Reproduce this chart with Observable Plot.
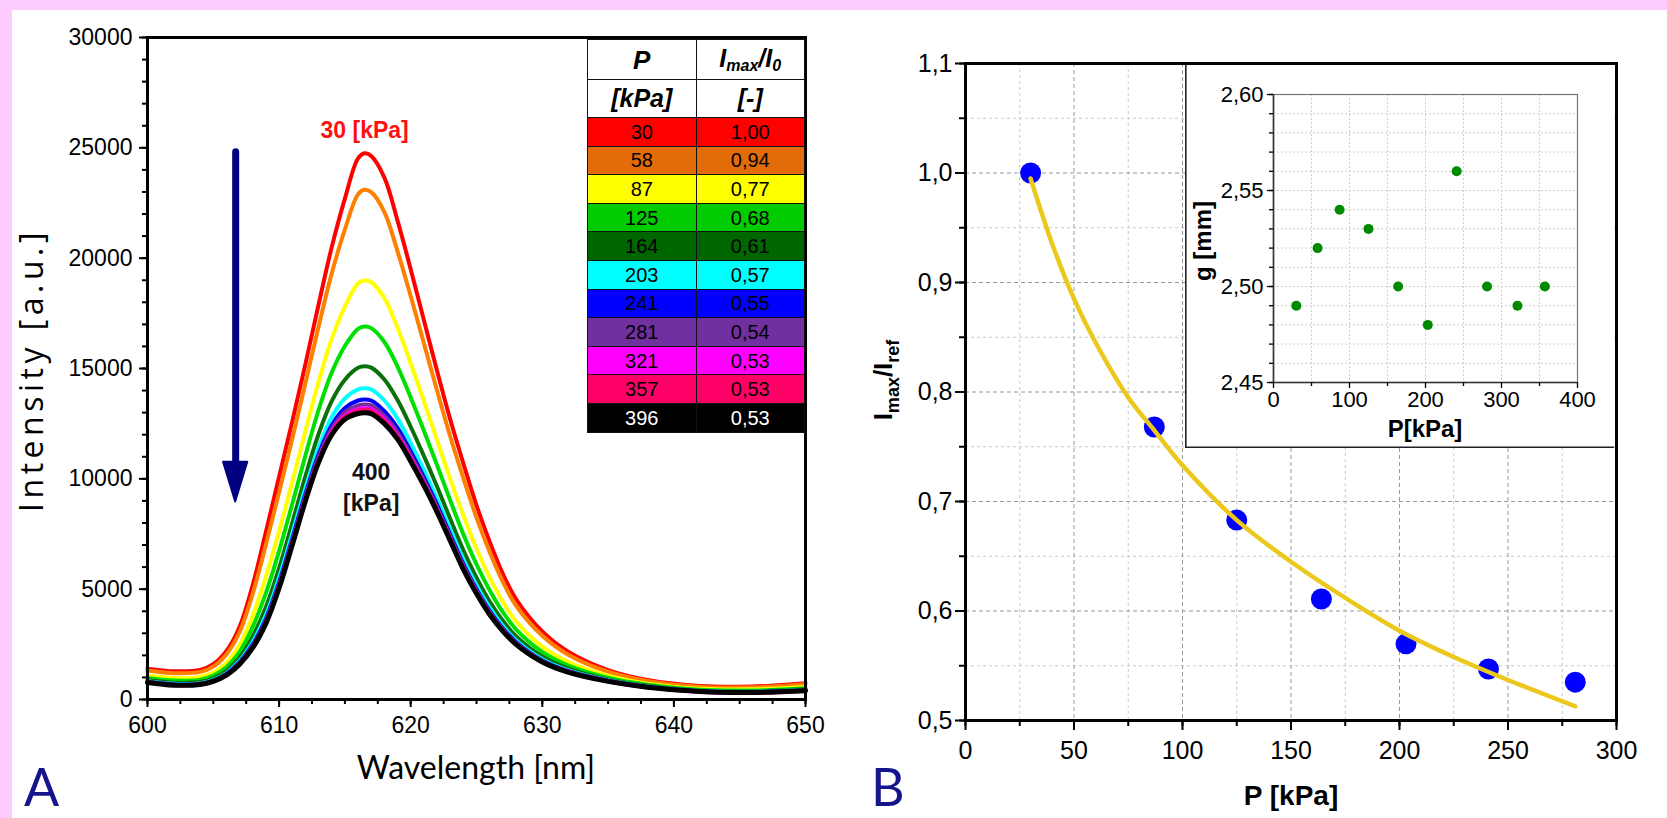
<!DOCTYPE html>
<html>
<head>
<meta charset="utf-8">
<script src="https://cdn.jsdelivr.net/npm/d3@7"></script>
<script src="https://cdn.jsdelivr.net/npm/@observablehq/plot@0.6"></script>
<style>
html,body{margin:0;padding:0;background:#fff;}
#root{position:relative;width:1667px;height:818px;overflow:hidden;background:#fff;}
.pink{position:absolute;background:#fecbfe;}
table.leg{position:absolute;left:587px;top:39px;width:218px;border-collapse:collapse;table-layout:fixed;
  font-family:"Liberation Sans",Arial,sans-serif;color:#000;}
table.leg td{border:1px solid #111;text-align:center;padding:0;line-height:1;font-size:20px;}
table.leg tr.h td{background:#fff;font-weight:bold;font-style:italic;}
table.leg sub{font-size:16px;vertical-align:-4px;}
</style>
</head>
<body>
<div id="root">
  <div class="pink" style="left:0;top:0;width:1667px;height:10px"></div>
  <div class="pink" style="left:0;top:0;width:12px;height:818px"></div>
</div>
<script>
// ---------------- DATA ----------------
// Panel A: emission spectra (wavelength in nm, intensity in a.u.)
const WAVELENGTH = [600,602,604,605,606,607,608,609,610,611,612,613,614,615,616,616.5,617,618,619,620,621,622,623,624,625,626,627,628,630,632,635,638,642,646,650];
const I_30  = [1400,1280,1340,1600,2200,3300,5200,7600,10100,12600,15200,17900,20500,22700,24520,24750,24630,23650,21700,19500,17200,14900,12700,10700,8800,7150,5700,4550,3080,2150,1330,880,610,590,740];
const I_58  = [1310,1190,1250,1490,2050,3060,4800,7020,9390,11820,14330,16900,19310,21300,22900,23100,22990,22090,20310,18280,16150,14000,11930,10030,8240,6690,5340,4260,2890,2020,1260,840,580,550,690];
const I_87  = [1090,970,1020,1220,1660,2470,3800,5570,7630,9860,12160,14400,16340,17800,18860,18990,18910,18190,16850,15240,13530,11760,10000,8350,6840,5530,4430,3550,2400,1700,1080,720,490,460,570];
const I_125 = [980,860,900,1080,1470,2160,3300,4830,6730,8860,11060,13120,14820,16020,16800,16900,16830,16200,15090,13690,12190,10630,9030,7490,6130,4950,3960,3180,2160,1540,990,670,440,410,510];
const I_164 = [880,760,800,960,1300,1900,2860,4190,5950,8000,10110,12030,13520,14490,15030,15100,15040,14500,13570,12360,11040,9650,8190,6760,5520,4440,3570,2870,1950,1400,910,620,400,370,460];
const I_203 = [830,710,740,890,1200,1760,2620,3840,5530,7530,9580,11420,12800,13640,14050,14100,14050,13550,12730,11620,10410,9100,7720,6350,5180,4160,3340,2690,1830,1320,870,590,380,350,430];
const I_241 = [800,680,710,860,1160,1690,2500,3660,5310,7290,9320,11120,12430,13210,13550,13600,13550,13070,12310,11240,10080,8830,7480,6150,5000,4020,3230,2610,1770,1280,850,580,370,330,420];
const I_281 = [790,670,700,850,1140,1650,2440,3580,5210,7180,9200,10980,12270,13020,13330,13370,13330,12850,12110,11070,9940,8700,7370,6050,4930,3950,3180,2570,1740,1260,840,570,370,330,410];
const I_321 = [780,660,690,830,1120,1630,2400,3520,5140,7100,9110,10870,12150,12870,13160,13200,13160,12690,11970,10950,9830,8610,7290,5980,4870,3910,3140,2540,1720,1250,830,560,350,310,400];
const I_357 = [780,660,690,830,1110,1620,2380,3490,5100,7060,9060,10820,12090,12800,13080,13120,13080,12610,11900,10890,9780,8560,7260,5950,4840,3880,3130,2520,1710,1240,830,560,360,320,400];
const I_396 = [770,650,680,820,1100,1600,2350,3450,5050,7000,9000,10750,12000,12700,12960,13000,12950,12500,11800,10800,9700,8500,7200,5900,4800,3850,3100,2500,1700,1230,820,560,360,320,400];
const LINE_COLORS = ["#ff0000","#ff7f00","#ffff00","#00e000","#0a700a","#00ffff","#0000ff","#7b2d9b","#ff00ff","#ff0066","#000000"];

// Legend table
const TABLE_P = ["30","58","87","125","164","203","241","281","321","357","396"];
const TABLE_RATIO = ["1,00","0,94","0,77","0,68","0,61","0,57","0,55","0,54","0,53","0,53","0,53"];
const TABLE_BG = ["#ff0000","#e36c0a","#ffff00","#00cc00","#006600","#00ffff","#0000ff","#7030a0","#ff00ff","#ff0066","#000000"];

// Axis ticks panel A
const A_X_TICKS = [600,610,620,630,640,650];
const A_Y_TICKS = [0,5000,10000,15000,20000,25000,30000];

// Arrow annotation (data units)
const ARROW_X = 606.7, ARROW_TOP = 24800, ARROW_HEAD = 10750, ARROW_TIP = 8950, ARROW_HALF = 0.92;

// Panel B: normalized max intensity vs pressure
const B_P = [30,87,125,164,203,241,281];
const B_RATIO = [1.00,0.768,0.683,0.611,0.570,0.547,0.535];
const FIT_P = [30,40,50,60,75,87,100,125,150,175,200,225,250,281];
const FIT_V = [0.995,0.935,0.885,0.845,0.795,0.765,0.733,0.683,0.645,0.612,0.582,0.558,0.537,0.513];
const B_X_TICKS = [0,50,100,150,200,250,300];
const B_Y_TICKS = [0.5,0.6,0.7,0.8,0.9,1.0,1.1];

// Inset: gap g vs pressure
const G_P = [30,58,87,125,164,203,241,281,321,357];
const G_MM = [2.49,2.52,2.54,2.53,2.50,2.48,2.56,2.50,2.49,2.50];
const IN_X_TICKS = [0,100,200,300,400];
const IN_Y_TICKS = [2.45,2.50,2.55,2.60];

// ---------------- DRAW ----------------
const root = document.getElementById("root");
const ARIAL = '"Liberation Sans", Arial, sans-serif';
const HUMAN = 'Lato, "Open Sans", sans-serif';
const NAVY = "#000080";
const step = (a,b,s) => d3.range(a, b + s/2, s);
const comma = (d, n) => d.toFixed(n).replace(".", ",");

function place(el, left, top) { el.style.position = "absolute"; el.style.left = left + "px"; el.style.top = top + "px"; root.appendChild(el); return el; }
function addText(svg, o) {
  const t = d3.select(svg).append("text")
    .attr("x", o.x).attr("y", o.y)
    .attr("text-anchor", o.anchor || "middle")
    .attr("font-family", o.family || ARIAL)
    .attr("font-size", o.size)
    .attr("font-weight", o.weight || "normal")
    .attr("fill", o.fill || "#000");
  if (o.spacing) t.attr("letter-spacing", o.spacing);
  if (o.rotate) t.attr("transform", `rotate(${o.rotate},${o.x},${o.y})`);
  t.text(o.text);
  return t;
}

// ----- Panel A -----
const series = [I_30,I_58,I_87,I_125,I_164,I_203,I_241,I_281,I_321,I_357,I_396];
const lineMarks = series.map((vals, i) => Plot.line(
  WAVELENGTH.map((w, j) => ({w, v: vals[j]})),
  {x: "w", y: "v", stroke: LINE_COLORS[i], strokeWidth: i === series.length - 1 ? 5 : 4, curve: "catmull-rom"}
));

const plotA = Plot.plot({
  width: 840, height: 818,
  marginLeft: 147, marginRight: 35, marginTop: 37, marginBottom: 119,
  x: {domain: [600, 650]},
  y: {domain: [0, 30000]},
  style: {background: "transparent", fontFamily: ARIAL, fontSize: "23px", color: "#000", overflow: "visible"},
  marks: [
    ...lineMarks,
    Plot.ruleX([ARROW_X], {y1: ARROW_TOP, y2: ARROW_HEAD - 300, stroke: NAVY, strokeWidth: 7, strokeLinecap: "round"}),
    Plot.areaX([{y: ARROW_HEAD, x1: ARROW_X - ARROW_HALF, x2: ARROW_X + ARROW_HALF}, {y: ARROW_TIP, x1: ARROW_X, x2: ARROW_X}],
      {y: "y", x1: "x1", x2: "x2", fill: NAVY, stroke: NAVY, strokeWidth: 2, strokeLinejoin: "round"}),
    Plot.text([{x: 616.5, y: 25800, t: "30 [kPa]"}], {x: "x", y: "y", text: "t", fill: "#ff1010", fontWeight: "bold", fontSize: 23, fontFamily: ARIAL}),
    Plot.text([{x: 617, y: 10300, t: "400"}, {x: 617, y: 8880, t: "[kPa]"}], {x: "x", y: "y", text: "t", fill: "#111", fontWeight: "bold", fontSize: 23, fontFamily: ARIAL}),
    Plot.axisX({ticks: step(600, 650, 2.5), tickSize: 5, strokeWidth: 2, tickFormat: () => "", label: null}),
    Plot.axisX({ticks: A_X_TICKS, tickSize: 8, strokeWidth: 2, tickPadding: 9, tickFormat: d => String(d), label: null}),
    Plot.axisY({ticks: step(0, 30000, 1000), tickSize: 5, strokeWidth: 2, tickFormat: () => "", label: null}),
    Plot.axisY({ticks: A_Y_TICKS, tickSize: 8, strokeWidth: 2, tickPadding: 7, tickFormat: d => String(d), label: null}),
    Plot.frame({stroke: "#000", strokeWidth: 3})
  ]
});
plotA.style.background = "transparent";
place(plotA, 0, 0);
addText(plotA, {x: 476, y: 779, text: "Wavelength [nm]", size: 32, family: HUMAN});
addText(plotA, {x: 43, y: 370, text: "Intensity [a.u.]", size: 32, family: '"Open Sans", Lato, sans-serif', spacing: 4.5, rotate: -90});
addText(plotA, {x: 24, y: 806, text: "A", size: 52, family: HUMAN, anchor: "start", fill: "#14148c"});

// Legend table
const tbl = document.createElement("table");
tbl.className = "leg";
tbl.innerHTML =
  `<tr class="h" style="height:40px"><td style="font-size:26px">P</td><td style="font-size:25px">I<sub>max</sub>/I<sub>0</sub></td></tr>` +
  `<tr class="h" style="height:38px"><td style="font-size:25px">[kPa]</td><td style="font-size:25px">[-]</td></tr>` +
  TABLE_P.map((p, i) => `<tr style="height:28.6px;background:${TABLE_BG[i]};color:${i === TABLE_P.length - 1 ? "#fff" : "#000"}"><td>${p}</td><td>${TABLE_RATIO[i]}</td></tr>`).join("");
root.appendChild(tbl);

// ----- Panel B -----
const plotB = Plot.plot({
  width: 827, height: 818,
  marginLeft: 125, marginRight: 51, marginTop: 63, marginBottom: 98,
  x: {domain: [0, 300]},
  y: {domain: [0.5, 1.1]},
  style: {background: "transparent", fontFamily: ARIAL, fontSize: "25px", color: "#000", overflow: "visible"},
  marks: [
    Plot.gridX({ticks: step(25, 275, 50), stroke: "#c8c8c8", strokeOpacity: 1, strokeDasharray: "3,3"}),
    Plot.gridY({ticks: step(0.55, 1.05, 0.1), stroke: "#c8c8c8", strokeOpacity: 1, strokeDasharray: "3,3"}),
    Plot.gridX({ticks: step(50, 250, 50), stroke: "#999", strokeOpacity: 1, strokeDasharray: "4,3"}),
    Plot.gridY({ticks: step(0.6, 1.0, 0.1), stroke: "#999", strokeOpacity: 1, strokeDasharray: "4,3"}),
    Plot.dot(B_P.map((p, i) => ({p, r: B_RATIO[i]})), {x: "p", y: "r", r: 10.5, fill: "#0000ff", stroke: "none"}),
    Plot.line(FIT_P.map((p, i) => ({p, v: FIT_V[i]})), {x: "p", y: "v", stroke: "#ecc81c", strokeWidth: 4.5, curve: "catmull-rom"}),
    Plot.axisX({ticks: step(0, 300, 25), tickSize: 6, strokeWidth: 2, tickFormat: () => "", label: null}),
    Plot.axisX({ticks: B_X_TICKS, tickSize: 10, strokeWidth: 2, tickPadding: 11, tickFormat: d => String(d), label: null}),
    Plot.axisY({ticks: step(0.5, 1.1, 0.05), tickSize: 6, strokeWidth: 2, tickFormat: () => "", label: null}),
    Plot.axisY({ticks: B_Y_TICKS, tickSize: 10, strokeWidth: 2, tickPadding: 3, tickFormat: d => comma(d, 1), label: null}),
    Plot.frame({stroke: "#000", strokeWidth: 3})
  ]
});
plotB.style.background = "transparent";
place(plotB, 840, 0);
addText(plotB, {x: 451, y: 805, text: "P [kPa]", size: 28, weight: "bold"});
addText(plotB, {x: 31, y: 806, text: "B", size: 52, family: HUMAN, anchor: "start", fill: "#14148c"});
{
  const t = d3.select(plotB).append("text")
    .attr("transform", "translate(52,380) rotate(-90)")
    .attr("text-anchor", "middle").attr("font-family", ARIAL).attr("font-weight", "bold").attr("font-size", 26).attr("fill", "#000");
  t.append("tspan").text("I");
  t.append("tspan").attr("dy", 7).attr("font-size", 18).text("max");
  t.append("tspan").attr("dy", -7).text("/I");
  t.append("tspan").attr("dy", 7).attr("font-size", 18).text("ref");
}

// ----- Inset -----
const plotC = Plot.plot({
  width: 429, height: 383,
  marginLeft: 88, marginRight: 37, marginTop: 29, marginBottom: 66,
  x: {domain: [0, 400]},
  y: {domain: [2.45, 2.60]},
  style: {background: "#fff", fontFamily: ARIAL, fontSize: "22px", color: "#000", overflow: "visible"},
  marks: [
    Plot.gridX({ticks: step(50, 350, 50), stroke: "#d0d0d0", strokeOpacity: 1, strokeDasharray: "2,2"}),
    Plot.gridY({ticks: step(2.46, 2.59, 0.01), stroke: "#d0d0d0", strokeOpacity: 1, strokeDasharray: "2,2"}),
    Plot.frame({stroke: "#777", strokeWidth: 1.2}),
    Plot.ruleX([0], {stroke: "#333", strokeWidth: 1.6}),
    Plot.ruleY([2.45], {stroke: "#333", strokeWidth: 1.6}),
    Plot.dot(G_P.map((p, i) => ({p, g: G_MM[i]})), {x: "p", y: "g", r: 5, fill: "#008a00", stroke: "none"}),
    Plot.axisX({ticks: step(50, 350, 100), tickSize: 4, strokeWidth: 1.3, tickFormat: () => "", label: null}),
    Plot.axisX({ticks: IN_X_TICKS, tickSize: 6, strokeWidth: 1.3, tickPadding: 3, tickFormat: d => String(d), label: null}),
    Plot.axisY({ticks: step(2.45, 2.60, 0.01), tickSize: 4, strokeWidth: 1.3, tickFormat: () => "", label: null}),
    Plot.axisY({ticks: IN_Y_TICKS, tickSize: 6, strokeWidth: 1.3, tickPadding: 4, tickFormat: d => comma(d, 2), label: null})
  ]
});
place(plotC, 1185, 65);
d3.select(plotC).append("line").attr("x1", 0.8).attr("x2", 0.8).attr("y1", 0).attr("y2", 383).attr("stroke", "#222").attr("stroke-width", 1.6);
d3.select(plotC).append("line").attr("x1", 0).attr("x2", 429).attr("y1", 382.2).attr("y2", 382.2).attr("stroke", "#222").attr("stroke-width", 1.6);
addText(plotC, {x: 240, y: 372, text: "P[kPa]", size: 24, weight: "bold"});
addText(plotC, {x: 26, y: 176, text: "g [mm]", size: 24, weight: "bold", rotate: -90});
</script>
</body>
</html>
